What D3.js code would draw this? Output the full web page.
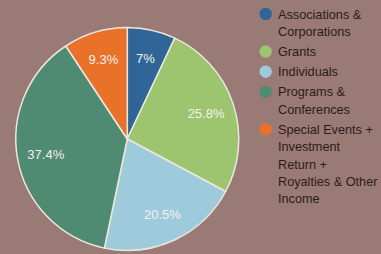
<!DOCTYPE html>
<html><head><meta charset="utf-8">
<script src="https://cdn.jsdelivr.net/npm/d3@7"></script>
<style>html,body{margin:0;padding:0;background:#9a7a74;}svg{display:block;}</style>
</head><body>
<script>
const categories = ["Associations & Corporations","Grants","Individuals","Programs & Conferences","Special Events + Investment Return + Royalties & Other Income"];
const values = [7, 25.8, 20.5, 37.4, 9.3];
const valueLabels = ["7%","25.8%","20.5%","37.4%","9.3%"];
const legendLines = [["Associations &","Corporations"],["Grants"],["Individuals"],["Programs &","Conferences"],["Special Events +","Investment","Return +","Royalties & Other","Income"]];
const colors = ["#2f6597","#9dc46e","#9ecbdc","#4f8a72","#e9712a"];

const W=381,H=254;
const svg=d3.select("body").append("svg").attr("width",W).attr("height",H);
svg.append("rect").attr("width",W).attr("height",H).attr("fill","#9a7a74");
const cx=127.3, cy=139, R=111.5;
const pie=d3.pie().sort(null).value(d=>d)(values);
const arc=d3.arc().innerRadius(0).outerRadius(R);
const larc=d3.arc().innerRadius(83).outerRadius(83);
const g=svg.append("g").attr("transform",`translate(${cx},${cy})`);
g.selectAll("path").data(pie).join("path")
 .attr("d",arc).attr("fill",(d,i)=>colors[i])
 .attr("stroke","#ece6df").attr("stroke-width",1.5).attr("stroke-linejoin","round");
g.selectAll("text").data(pie).join("text")
 .attr("transform",d=>`translate(${larc.centroid(d)})`)
 .attr("text-anchor","middle").attr("dy","0.36em")
 .attr("fill","#f4f1ee").attr("font-family","Liberation Sans, Arial, sans-serif").attr("font-size",13)
 .text((d,i)=>valueLabels[i]);

const lg=svg.append("g");
let y=14;
legendLines.forEach((lines,i)=>{
  lg.append("circle").attr("cx",265.7).attr("cy",y).attr("r",6.2).attr("fill",colors[i]);
  lines.forEach((t,j)=>{
    lg.append("text").attr("x",278).attr("y",y+j*17.3).attr("dy","0.36em")
      .attr("fill","#2a1c1a").attr("font-family","Liberation Sans, Arial, sans-serif").attr("font-size",12.7)
      .text(t);
  });
  y+=(lines.length-1)*17.3+20.2;
});
</script>
</body></html>
